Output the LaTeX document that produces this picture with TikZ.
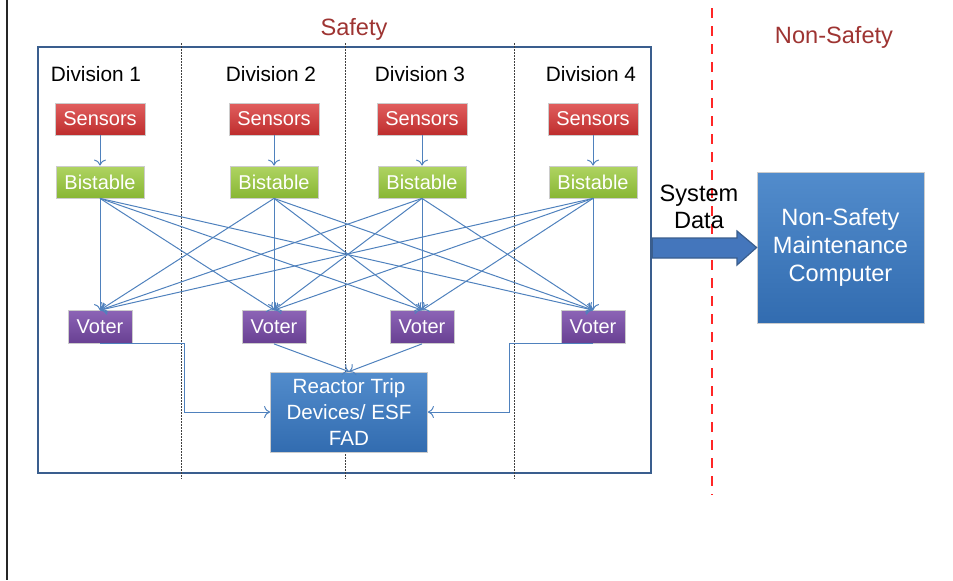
\documentclass[tikz,border=0pt]{standalone}
\usepackage{fontspec}
\setmainfont{Liberation Sans}
\usetikzlibrary{arrows.meta}

\definecolor{titlered}{RGB}{158,52,50}
\definecolor{linkblue}{RGB}{79,129,189}
\definecolor{framblue}{RGB}{58,94,142}
\definecolor{sensortop}{RGB}{225,95,95}
\definecolor{sensorbot}{RGB}{190,45,45}
\definecolor{bistop}{RGB}{175,212,98}
\definecolor{bisbot}{RGB}{136,182,52}
\definecolor{votertop}{RGB}{140,100,182}
\definecolor{voterbot}{RGB}{104,64,146}
\definecolor{bluetop}{RGB}{82,140,204}
\definecolor{bluebot}{RGB}{50,108,176}
\definecolor{arrowblue}{RGB}{68,118,188}

\tikzset{
  unitbox/.style={draw=black!20, line width=0.4pt, inner sep=0pt, text=white,
    font=\fontsize{10}{12}\selectfont},
  sensorbox/.style={unitbox, top color=sensortop, bottom color=sensorbot,
    minimum width=45pt, minimum height=16pt},
  bistbox/.style={unitbox, top color=bistop, bottom color=bisbot,
    minimum width=44pt, minimum height=16pt},
  voterbox/.style={unitbox, top color=votertop, bottom color=voterbot,
    minimum width=32pt, minimum height=16.5pt},
  bigbox/.style={unitbox, top color=bluetop, bottom color=bluebot, align=center},
  link/.style={draw=linkblue, line width=0.5pt, -{To[length=3pt,width=6pt]}},
  divline/.style={draw=black!75, line width=0.5pt, dash pattern=on 1pt off 0.5pt},
}

\begin{document}
\begin{tikzpicture}[x=0.5pt, y=-0.5pt]
  \useasboundingbox (0,0) rectangle (953,580);

  % page edge and safety border
  \draw[black!85, line width=1pt] (7,0) -- (7,580);
  \draw[red!85!white, line width=0.75pt, dash pattern=on 5pt off 4pt] (712,8) -- (712,495);
  \node (safety) [draw=framblue, line width=1.2pt, minimum width=306.5pt, minimum height=213pt,
    inner sep=0pt] at (344.5,260) {};
  \node (safetytitle) [text=titlered, font=\fontsize{11.8}{14}\selectfont] at (354,29) {Safety};
  \node (nonsafetytitle) [text=titlered, font=\fontsize{11.8}{14}\selectfont] at (834,37) {Non-Safety};

  % division dividers
  \foreach \x in {181,345,514}
    \draw[divline] (\x,43) -- (\x,479);

  % the four divisions
  \foreach \i/\x in {1/100,2/274,3/422,4/593} {
    \node (sens\i) [sensorbox] at (\x,119) {Sensors};
    \node (bist\i) [bistbox] at (\x,182) {Bistable};
    \node (vote\i) [voterbox] at (\x,327) {Voter};
    \draw[link] (sens\i) -- (bist\i);
  }
  \foreach \i/\x in {1/96,2/271,3/420,4/591}
    \node (div\i) [font=\fontsize{10.4}{12}\selectfont] at (\x,74) {Division \i};

  % every bistable feeds every voter
  \foreach \i in {1,...,4}
    \foreach \j in {1,...,4}
      \draw[link] (bist\i.south) -- (vote\j.north);

  % trip devices
  \node (trip) [bigbox, minimum width=78.5pt, minimum height=40pt,
    font=\fontsize{10.3}{13}\selectfont] at (349,412) {Reactor Trip\\Devices/ ESF\\FAD};
  \coordinate (bendleft) at (184,400);
  \coordinate (bendright) at (509,400);
  \draw[link] (vote1.south) -- (vote1.south -| bendleft) |- (trip.west);
  \draw[link] (vote4.south) -- (vote4.south -| bendright) |- (trip.east);
  \draw[link] (vote2.south) -- (trip.north);
  \draw[link] (vote3.south) -- (trip.north);

  % maintenance computer
  \node (maint) [bigbox, minimum width=83.5pt, minimum height=75.5pt,
    font=\fontsize{11.8}{14}\selectfont] at (840.5,247.5) {Non-Safety\\Maintenance\\Computer};
  \node (sysdata) [align=center, font=\fontsize{11.8}{13.5}\selectfont] at (699,207) {System\\Data};
  \fill[arrowblue, draw=framblue, line width=0.6pt]
    (safety.east |- 0,238) -- (737,238) -- (737,231) -- (maint.west) -- (737,265)
    -- (737,258) -- (safety.east |- 0,258) -- cycle;
\end{tikzpicture}
\end{document}
